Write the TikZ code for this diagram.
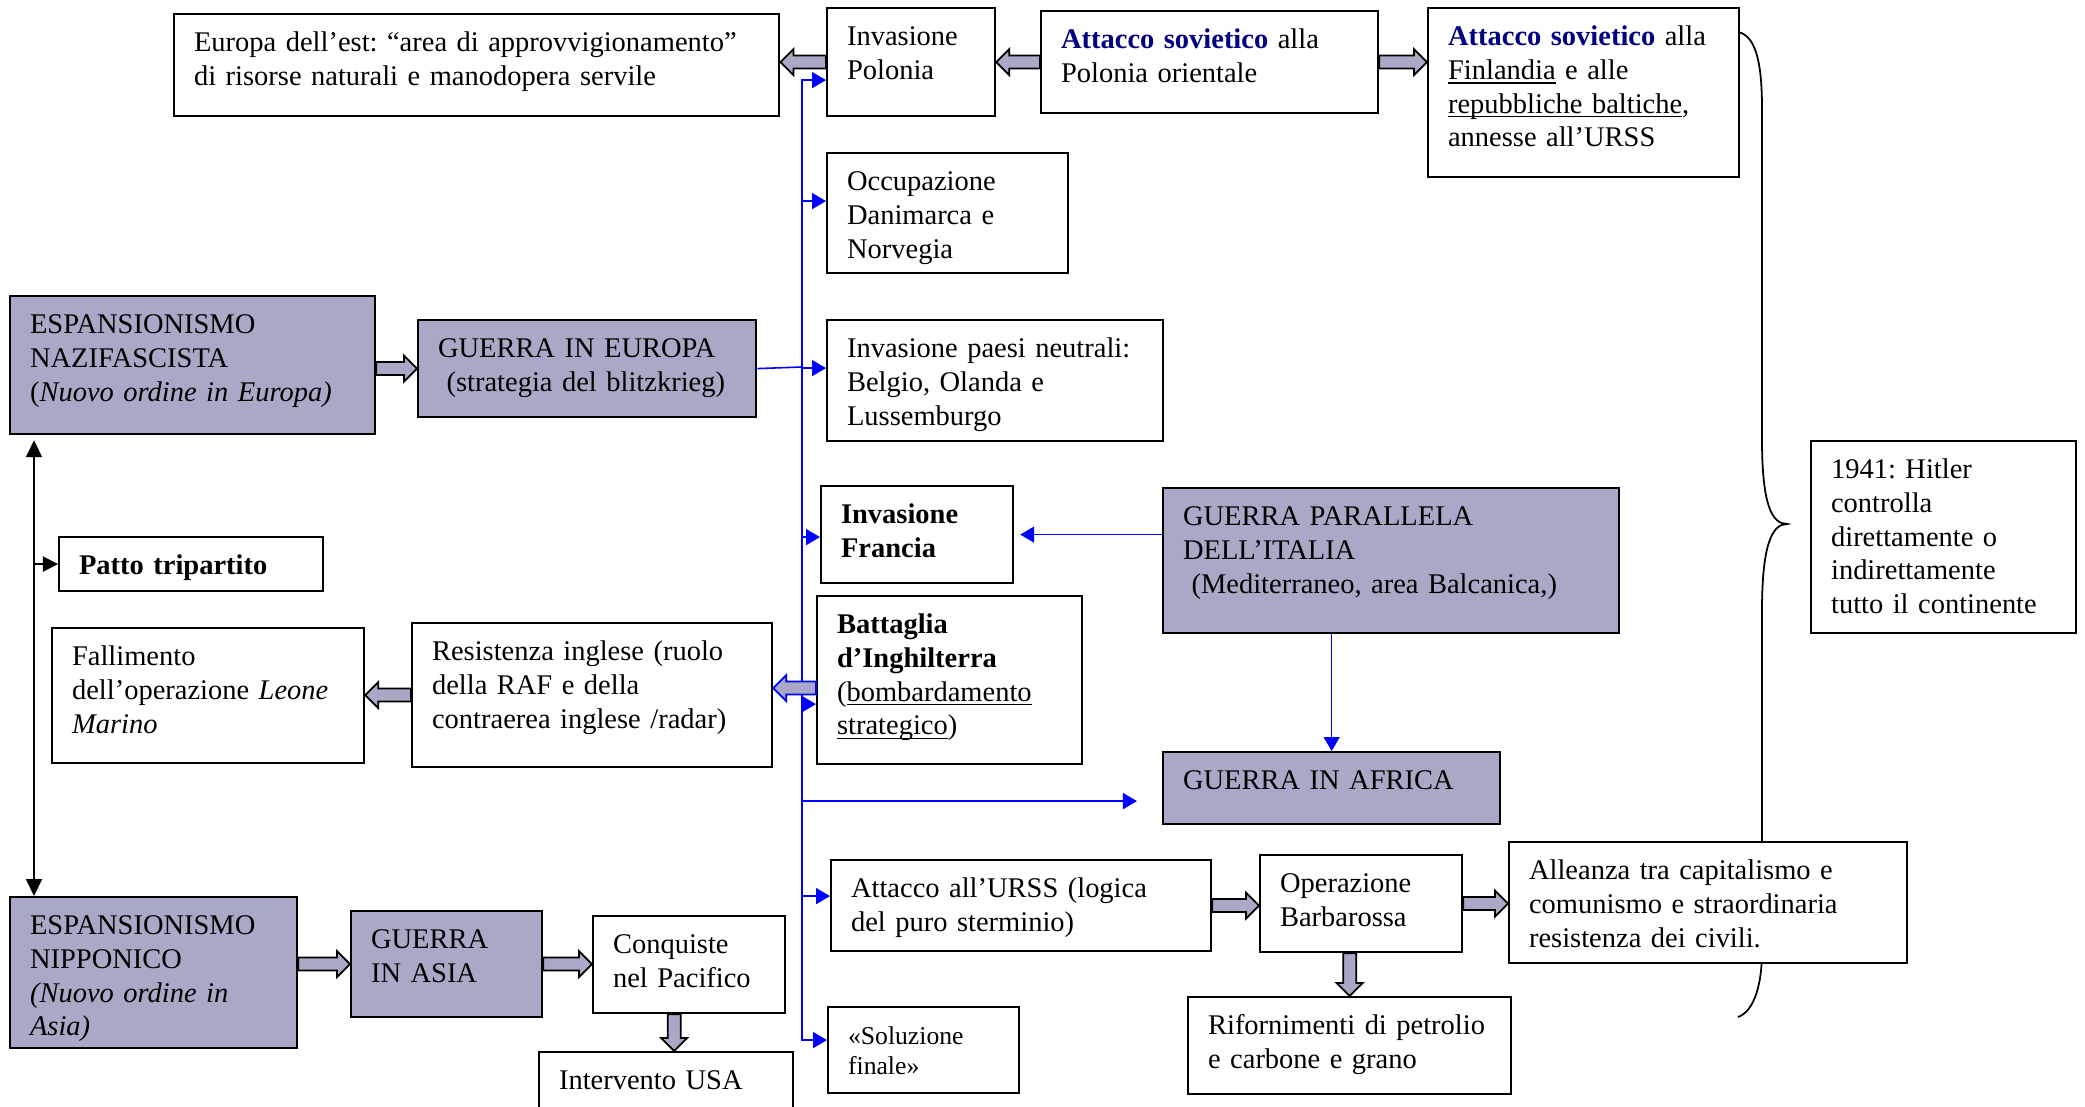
\documentclass[tikz,border=0pt]{standalone}
\usepackage{fontspec}
\setmainfont{Liberation Serif}
\usetikzlibrary{arrows.meta,calc,backgrounds}
\definecolor{lavender}{RGB}{169,169,199}
\definecolor{sovblue}{RGB}{0,0,128}
\tikzstyle{box} = [draw, rectangle, fill=white, line width=0.6pt, anchor=north west, align=left, inner xsep=0.2cm, inner ysep=0.125cm, text height=0.25cm, font=\fontsize{8.1}{9.6}\selectfont\frenchspacing]
\tikzstyle{shaded} = [box, fill=lavender]
\tikzstyle{blueline} = [draw, blue, line width=0.45pt]
\tikzstyle{bluearrow} = [blueline, -{Triangle[length=0.14cm,width=0.16cm]}]
\tikzstyle{blackarrow} = [draw, line width=0.5pt, -{Triangle[length=0.15cm,width=0.15cm]}]
\tikzstyle{fat} = [line width=0.5pt, fill=lavender, line join=miter]
\newcommand{\sov}[1]{\textcolor{sovblue}{\textbf{#1}}}
\newcommand{\undl}[1]{\leavevmode\setbox0=\hbox{#1}\rlap{\rule[-1.2pt]{\wd0}{0.45pt}}\box0\relax}
\newcommand{\fatarrow}[3][black]{%
	\coordinate (neck) at ($(#3)!0.13cm!(#2)$);
	\draw [fat, draw=#1] ($(#2)!0.065cm!90:(#3)$) -- ($(neck)!0.065cm!90:(#3)$) -- ($(neck)!0.13cm!90:(#3)$) -- (#3) -- ($(neck)!0.13cm!-90:(#3)$) -- ($(neck)!0.065cm!-90:(#3)$) -- ($(#2)!0.065cm!-90:(#3)$) -- cycle;}

\begin{document}
\begin{tikzpicture}[x=0.01cm, y=-0.01cm]
	\useasboundingbox (0,0) rectangle (2085,1106);

	\node [box, text width=5.65cm, text depth=0.52cm] (europa) at (173,13) {Europa dell’est: “area di approvvigionamento”\\di risorse naturali e manodopera servile};
	\node [box, text width=1.28cm, text depth=0.58cm] (polonia) at (826,7) {Invasione\\Polonia};
	\node [box, text width=2.97cm, text depth=0.52cm] (sovpol) at (1040,10) {\sov{Attacco sovietico} alla\\Polonia orientale};
	\node [box, text width=2.71cm, text depth=1.19cm] (sovfin) at (1427,7) {\sov{Attacco sovietico} alla\\\undl{Finlandia} e alle\\\undl{repubbliche baltiche},\\annesse all’URSS};
	\node [box, text width=2.01cm, text depth=0.70cm] (occup) at (826,152) {Occupazione\\Danimarca e\\Norvegia};
	\node [shaded, text width=3.25cm, text depth=0.88cm] (nazi) at (9,295) {ESPANSIONISMO\\NAZIFASCISTA\\(\textit{Nuovo ordine in Europa)}};
	\node [shaded, text width=2.98cm, text depth=0.47cm] (geurope) at (417,319) {GUERRA IN EUROPA\\\hspace*{0.3em}(strategia del blitzkrieg)};
	\node [box, text width=2.96cm, text depth=0.71cm] (neutral) at (826,319) {Invasione paesi neutrali:\\Belgio, Olanda e\\Lussemburgo};
	\node [box, text width=2.24cm, text depth=0.04cm] (patto) at (58,536) {\textbf{Patto tripartito}};
	\node [box, text width=1.52cm, text depth=0.47cm] (francia) at (820,485) {\textbf{Invasione}\\\textbf{Francia}};
	\node [shaded, text width=4.16cm, text depth=0.95cm] (parallela) at (1162,487) {GUERRA PARALLELA\\DELL’ITALIA\\\hspace*{0.3em}(Mediterraneo, area Balcanica,)};
	\node [box, text width=2.25cm, text depth=1.42cm] (hitler) at (1810,440) {1941: Hitler\\controlla\\direttamente o\\indirettamente\\tutto il continente};
	\node [box, text width=2.72cm, text depth=0.85cm] (fallimento) at (51,627) {Fallimento\\dell’operazione \textit{Leone}\\\textit{Marino}};
	\node [box, text width=3.20cm, text depth=0.94cm] (resistenza) at (411,622) {Resistenza inglese (ruolo\\della RAF e della\\contraerea inglese /radar)};
	\node [box, text width=2.25cm, text depth=1.18cm] (battaglia) at (816,595) {\textbf{Battaglia}\\\textbf{d’Inghilterra}\\(\undl{bombardamento}\\\undl{strategico})};
	\node [shaded, text width=2.97cm, text depth=0.22cm] (africa) at (1162,751) {GUERRA IN AFRICA};
	\node [box, text width=3.40cm, text depth=0.41cm] (urss) at (830,859) {Attacco all’URSS (logica\\del puro sterminio)};
	\node [box, text width=1.62cm, text depth=0.47cm] (barbarossa) at (1259,854) {Operazione\\Barbarossa};
	\node [box, text width=3.58cm, text depth=0.71cm] (alleanza) at (1508,841) {Alleanza tra capitalismo e\\comunismo e straordinaria\\resistenza dei civili.};
	\node [box, text width=2.83cm, text depth=0.47cm] (rifornimenti) at (1187,996) {Rifornimenti di petrolio\\e carbone e grano};
	\node [shaded, text width=2.47cm, text depth=1.01cm] (nipponico) at (9,896) {ESPANSIONISMO\\NIPPONICO\\{\itshape (Nuovo ordine in\\Asia)}};
	\node [shaded, text width=1.51cm, text depth=0.56cm] (asia) at (350,910) {GUERRA\\IN ASIA};
	\node [box, text width=1.52cm, text depth=0.47cm] (pacifico) at (592,915) {Conquiste\\nel Pacifico};
	\node [box, text width=2.14cm, text depth=0.30cm] (usa) at (538,1051) {Intervento USA};
	\node [box, text width=1.51cm, text depth=0.36cm, font=\fontsize{7.3}{8.4}\selectfont] (soluzione) at (827,1006) {«Soluzione\\finale»};

	\begin{scope}[on background layer]
		\draw [line width=0.5pt] (1738,32) .. controls (1758,36) and (1762,70) .. (1762,110) -- (1762,440) .. controls (1762,505) and (1772,524) .. (1787,524) .. controls (1772,524) and (1762,545) .. (1762,610) -- (1762,950) .. controls (1762,990) and (1752,1012) .. (1738,1017);
	\end{scope}

	\coordinate (hub) at (802,367);
	\path [blueline] (geurope.east) -- (hub);
	\path [bluearrow] (hub) |- ([yshift=-0.18cm]polonia.west);
	\path [bluearrow] (hub) |- ([yshift=0.12cm]occup.west);
	\path [bluearrow] (hub) |- ([yshift=0.125cm]neutral.west);
	\path [bluearrow] (hub) |- ([yshift=-0.025cm]francia.west);
	\path [bluearrow] (hub) |- ([yshift=-0.24cm]battaglia.west);
	\path [bluearrow] (hub) |- ([xshift=-0.25cm,yshift=-0.13cm]africa.west);
	\path [bluearrow] (hub) |- ([yshift=0.095cm]urss.west);
	\path [bluearrow] (hub) |- ([yshift=0.10cm]soluzione.west);
	\path [bluearrow] (parallela.west |- francia.east) -- ([xshift=0.06cm]francia.east);
	\path [bluearrow] (parallela.south -| africa.north) -- (africa.north);

	\coordinate (axis) at ([xshift=0.25cm,yshift=-0.05cm]nazi.south west);
	\path [blackarrow, {Triangle[length=0.17cm,width=0.16cm]}-{Triangle[length=0.17cm,width=0.16cm]}] (axis) -- (axis |- nipponico.north);
	\path [blackarrow] (axis |- patto.west) -- (patto.west);

	\coordinate (raf) at ([yshift=0.07cm]resistenza.east);
	\coordinate (usatop) at ([xshift=0.08cm]usa.north);
	\fatarrow{polonia.west}{polonia.west -| europa.east}
	\fatarrow{sovpol.west}{sovpol.west -| polonia.east}
	\fatarrow{sovpol.east}{sovpol.east -| sovfin.west}
	\fatarrow{geurope.west -| nazi.east}{geurope.west}
	\fatarrow[blue]{raf -| battaglia.west}{raf}
	\fatarrow{resistenza.west}{resistenza.west -| fallimento.east}
	\fatarrow{asia.west -| nipponico.east}{asia.west}
	\fatarrow{asia.east}{asia.east -| pacifico.west}
	\fatarrow{usatop |- pacifico.south}{usatop}
	\fatarrow{urss.east}{urss.east -| barbarossa.west}
	\fatarrow{barbarossa.east}{barbarossa.east -| alleanza.west}
	\fatarrow{barbarossa.south -| rifornimenti.north}{rifornimenti.north}
\end{tikzpicture}
\end{document}
